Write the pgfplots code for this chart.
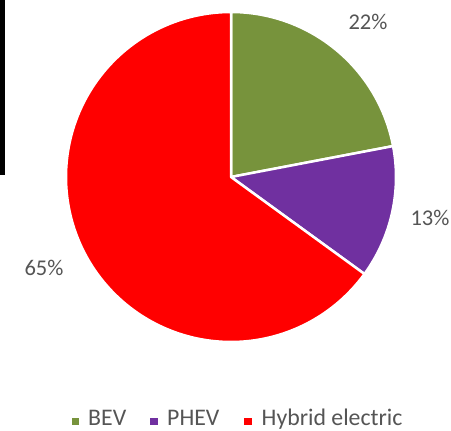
\documentclass[border=0pt]{standalone}
\usepackage{pgfplots}
\usepackage{pgfplotstable}
\pgfplotsset{compat=1.18}
\usepackage{fontspec}
\setmainfont{Carlito}
\definecolor{bev}{HTML}{77933C}
\definecolor{phev}{HTML}{7030A0}
\definecolor{hyb}{HTML}{FF0000}
\definecolor{lbl}{HTML}{555555}
\pgfplotstableread{
name value
BEV 22
PHEV 13
Hybrid 65
}\piedata
\begin{document}
\begin{tikzpicture}
\useasboundingbox (0,0) rectangle (451pt,431pt);
\pgfplotstablegetelem{0}{value}\of\piedata \let\va\pgfplotsretval
\pgfplotstablegetelem{1}{value}\of\piedata \let\vb\pgfplotsretval
\pgfplotstablegetelem{2}{value}\of\piedata \let\vc\pgfplotsretval
\pgfmathsetmacro{\aA}{90}
\pgfmathsetmacro{\aB}{90-3.6*\va}
\pgfmathsetmacro{\aC}{\aB-3.6*\vb}
\pgfmathsetmacro{\aD}{\aC-3.6*\vc}
\begin{axis}[width=451pt,height=431pt,scale only axis,
  xmin=0,xmax=451,ymin=0,ymax=431,hide axis,clip=false]
% black bar at left
\addplot[fill=black,draw=none] coordinates {(0,431) (4.5,431) (4.5,256) (0,256)} -- cycle;
% wedges
\addplot[fill=bev,draw=white,line width=2.5pt,line join=round,domain=\aB:\aA,samples=80,variable=\t]
  ({231+165*cos(\t)},{254+165*sin(\t)}) -- (axis cs:231,254) -- cycle;
\addplot[fill=phev,draw=white,line width=2.5pt,line join=round,domain=\aC:\aB,samples=60,variable=\t]
  ({231+165*cos(\t)},{254+165*sin(\t)}) -- (axis cs:231,254) -- cycle;
\addplot[fill=hyb,draw=white,line width=2.5pt,line join=round,domain=\aD:\aC,samples=200,variable=\t]
  ({231+165*cos(\t)},{254+165*sin(\t)}) -- (axis cs:231,254) -- cycle;
% data labels
\node[font=\fontsize{22.5}{26}\selectfont,text=lbl] at (axis cs:368,409) {\va\%};
\node[font=\fontsize{22.5}{26}\selectfont,text=lbl] at (axis cs:430,213) {\vb\%};
\node[font=\fontsize{22.5}{26}\selectfont,text=lbl] at (axis cs:44,163) {\vc\%};
% legend
\addplot[only marks,mark=square*,mark size=3.2pt,color=bev] coordinates {(75,10)};
\addplot[only marks,mark=square*,mark size=3.2pt,color=phev] coordinates {(153.5,10)};
\addplot[only marks,mark=square*,mark size=3.2pt,color=hyb] coordinates {(247.5,10)};
\node[font=\fontsize{23.8}{26}\selectfont,text=lbl,anchor=base west,inner sep=0pt] at (axis cs:88,5) {BEV};
\node[font=\fontsize{23.8}{26}\selectfont,text=lbl,anchor=base west,inner sep=0pt] at (axis cs:167,5) {PHEV};
\node[font=\fontsize{23.8}{26}\selectfont,text=lbl,anchor=base west,inner sep=0pt] at (axis cs:261.5,5) {Hybrid electric};
\end{axis}
\end{tikzpicture}
\end{document}
